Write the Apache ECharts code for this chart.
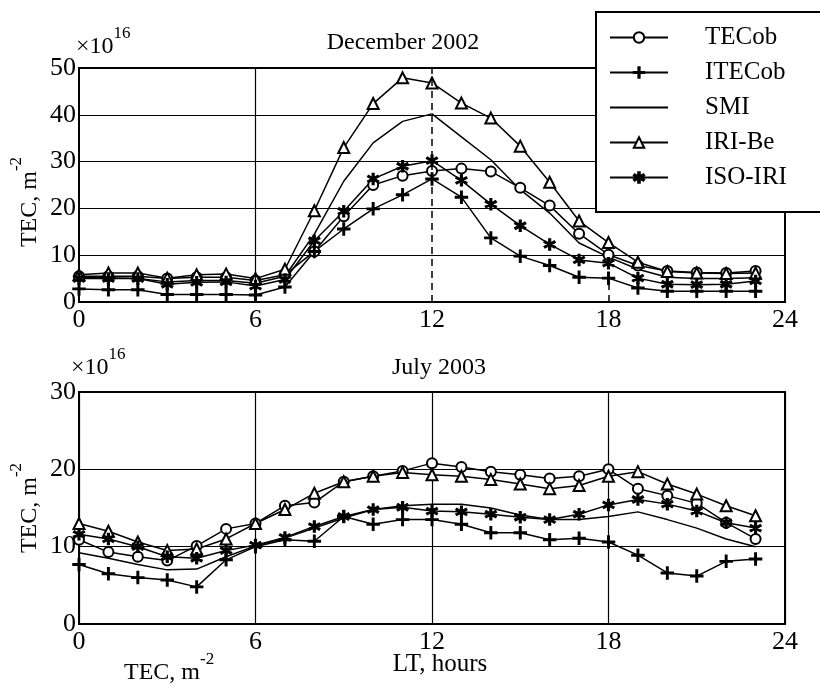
<!DOCTYPE html>
<html><head><meta charset="utf-8">
<script src="https://cdn.jsdelivr.net/npm/echarts@6.0.0/dist/echarts.min.js"></script>
<style>html,body{margin:0;padding:0;background:#fff}#c{width:820px;height:685px}</style>
</head><body><div id="c"></div>
<script>
const hours = [0,1,2,3,4,5,6,7,8,9,10,11,12,13,14,15,16,17,18,19,20,21,22,23];
const seriesNames = ['TECob','ITECob','SMI','IRI-Be','ISO-IRI'];
const xTickLabels = ['0','6','12','18','24'];

// December 2002 (x10^16 m^-2)
const decTECob  = [5.5,5.5,5.5,5.0,5.3,5.3,4.6,5.8,10.8,18.3,25.0,27.0,28.0,28.5,27.9,24.4,20.6,14.6,10.1,7.8,6.6,6.3,6.2,6.6];
const decITECob = [2.8,2.6,2.6,1.6,1.6,1.6,1.5,3.2,10.8,15.6,19.9,22.9,26.3,22.4,13.7,9.8,7.8,5.3,5.1,3.0,2.3,2.3,2.3,2.3];
const decSMI    = [5.2,5.2,5.0,4.3,4.6,4.6,4.0,5.5,14.5,25.8,34.0,38.6,40.2,35.3,30.4,24.0,19.0,12.6,9.6,7.0,5.3,5.0,5.0,5.2];
const decIRIBe  = [5.8,6.2,6.2,5.1,5.8,6.0,5.0,7.0,19.5,33.0,42.4,47.9,46.8,42.5,39.3,33.3,25.6,17.3,12.7,8.5,6.5,6.2,6.1,6.2];
const decISOIRI = [5.0,5.0,5.0,3.8,4.2,4.3,3.4,4.8,13.1,19.4,26.3,29.0,30.2,26.0,20.9,16.3,12.3,9.0,8.3,5.1,3.8,3.7,3.8,4.5];

// July 2003 (x10^16 m^-2)
const julTECob  = [10.9,9.3,8.7,8.2,10.1,12.3,13.0,15.3,15.7,18.4,19.1,19.8,20.8,20.3,19.7,19.3,18.8,19.1,20.0,17.5,16.6,15.6,13.1,11.0];
const julITECob = [7.7,6.5,6.0,5.7,4.8,8.3,10.0,10.9,10.7,13.9,12.9,13.5,13.5,12.9,11.8,11.8,10.9,11.1,10.6,8.9,6.6,6.2,8.1,8.4];
const julSMI    = [9.2,8.5,7.7,7.0,7.1,8.7,10.1,11.1,12.4,13.7,14.8,15.3,15.5,15.5,15.0,14.1,13.5,13.5,13.9,14.5,13.5,12.4,11.0,10.0];
const julIRIBe  = [13.0,12.0,10.6,9.5,9.7,11.0,13.0,14.8,16.9,18.4,19.1,19.6,19.3,19.1,18.7,18.1,17.5,17.9,19.1,19.7,18.1,16.8,15.3,14.0];
const julISOIRI = [11.6,11.0,10.0,8.7,8.5,9.5,10.2,11.2,12.6,13.9,14.8,15.1,14.6,14.5,14.2,13.8,13.5,14.2,15.4,16.1,15.5,14.6,13.1,12.4];

const FONT = 'Liberation Serif';
const BLACK = '#000';
const plusPath = 'path://M4.4,0H5.6V10H4.4ZM0,4.4H10V5.6H0Z';
const starPath = 'path://M43,0H57V100H43ZM89.3,81.1L96.3,69L10.7,18.9L3.7,31ZM96.3,31L89.3,18.9L3.7,69L10.7,81.1Z';

const symbolOf = {
  'TECob':  {symbol:'emptyCircle', size:10},
  'ITECob': {symbol:plusPath, size:12},
  'SMI':    {symbol:'none', size:0},
  'IRI-Be': {symbol:'emptyTriangle', size:11},
  'ISO-IRI':{symbol:starPath, size:11}
};

function pairs(arr){ return hours.map((h,i)=>[h, arr[i]]); }

function makeSeries(name, arr, idx){
  const s = symbolOf[name];
  return {
    name, type:'line', xAxisIndex: idx, yAxisIndex: idx,
    data: pairs(arr),
    symbol: s.symbol, symbolSize: s.size, showSymbol: s.symbol !== 'none',
    lineStyle: {color: BLACK, width: 1.5},
    itemStyle: {color: BLACK, borderColor: BLACK, borderWidth: 1.5},
    emphasis: {disabled: true},
    animation: false, z: 3
  };
}

const decSeriesData = [decTECob, decITECob, decSMI, decIRIBe, decISOIRI];
const julSeriesData = [julTECob, julITECob, julSMI, julIRIBe, julISOIRI];

const series = [];
seriesNames.forEach((n,i)=>series.push(makeSeries(n, decSeriesData[i], 0)));
seriesNames.forEach((n,i)=>series.push(makeSeries(n, julSeriesData[i], 1)));

// reference lines of the December panel
series[2].markLine = {
  silent: true, symbol: 'none', label: {show:false}, animation:false,
  data: [
    {xAxis: 6, lineStyle: {type:'solid', color:BLACK, width:1.2}},
    {xAxis: 12, lineStyle: {type:[7,5], color:BLACK, width:1.5}},
    [{coord:[18,0], lineStyle:{type:[7,5], color:BLACK, width:1.5}}, {coord:[18,5]}]
  ]
};

const labelStyle = {color: BLACK, fontFamily: FONT, fontSize: 26};
function xAxisCfg(idx, split, name){
  return {
    type:'value', gridIndex: idx, min:0, max:24, interval:6,
    axisLine:{show:false}, axisTick:{show:false},
    axisLabel: Object.assign({margin:5, formatter:v=>xTickLabels[v/6]}, labelStyle),
    splitLine:{show:split, lineStyle:{color:BLACK, width:1.2}},
    name: name || '', nameLocation:'middle', nameGap: 28, nameMoveOverlap:false,
    nameTextStyle:{color:BLACK, fontFamily:FONT, fontSize:25, padding:[0,0,0,16]}
  };
}
const supRich = {
  a:{fontFamily:FONT, fontSize:24, fontWeight:'normal', color:BLACK, verticalAlign:'bottom', lineHeight:34},
  s:{fontFamily:FONT, fontSize:17, fontWeight:'normal', color:BLACK, verticalAlign:'top', lineHeight:17}
};
function yAxisCfg(idx, max, namePad){
  return {
    type:'value', gridIndex: idx, min:0, max:max, interval:10,
    axisLine:{show:false}, axisTick:{show:false},
    axisLabel: Object.assign({margin:3}, labelStyle),
    splitLine:{show:true, lineStyle:{color:BLACK, width:1.2}},
    name: '{a|TEC, m}{s|-2}', nameLocation:'middle', nameRotate: 90, nameGap: 37, nameMoveOverlap:false,
    nameTextStyle:{color:BLACK, fontFamily:FONT, fontWeight:'normal', padding:namePad, rich:supRich}
  };
}

const option = {
  backgroundColor:'#fff',
  animation:false,
  title: [
    {text:'December 2002', left:403, top:29, textAlign:'center', padding:0,
     textStyle:{fontFamily:FONT, fontSize:24, fontWeight:'normal', color:BLACK, lineHeight:28}},
    {text:'July 2003', left:439, top:354, textAlign:'center', padding:0,
     textStyle:{fontFamily:FONT, fontSize:24, fontWeight:'normal', color:BLACK, lineHeight:28}},
    {text:'{a|×10}{s|16}', left:76, top:25, padding:0,
     textStyle:{fontWeight:'normal', rich:supRich}},
    {text:'{a|×10}{s|16}', left:71, top:346, padding:0,
     textStyle:{fontWeight:'normal', rich:supRich}},
    {text:'{a|TEC, m}{s|-2}', left:124, top:651, padding:0,
     textStyle:{fontWeight:'normal', rich:supRich}}
  ],
  legend: {
    show:true, orient:'vertical', left:596, top:12,
    data: [
      {name:'TECob'}, {name:'ITECob'}, {name:'SMI', itemStyle:{opacity:0}},
      {name:'IRI-Be'}, {name:'ISO-IRI'}
    ],
    padding:[13,60,22,13], itemGap:10, itemWidth:58, itemHeight:13,
    backgroundColor:'#fff', borderColor:BLACK, borderWidth:2, borderRadius:0,
    textStyle:{fontFamily:FONT, fontSize:25, color:BLACK, lineHeight:25, padding:[0,0,0,32]},
    selectedMode:false, z:10
  },
  grid: [
    {left:79, top:68, width:706, height:234, show:true, borderColor:BLACK, borderWidth:2, backgroundColor:'transparent'},
    {left:79, top:392, width:706, height:232, show:true, borderColor:BLACK, borderWidth:2, backgroundColor:'transparent'}
  ],
  xAxis: [xAxisCfg(0, false), xAxisCfg(1, true, 'LT, hours')],
  yAxis: [yAxisCfg(0, 50, [0,34,0,0]), yAxisCfg(1, 30, [0,0,0,0])],
  series
};

const chart = echarts.init(document.getElementById('c'), null, {renderer:'canvas'});
chart.setOption(option);
</script>
</body></html>
